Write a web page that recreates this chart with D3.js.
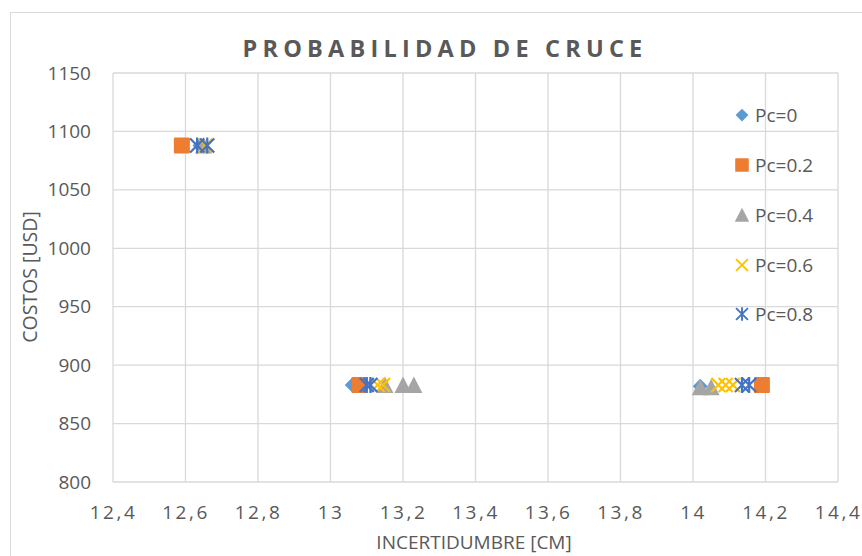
<!DOCTYPE html>
<html>
<head>
<meta charset="utf-8">
<script src="https://cdn.jsdelivr.net/npm/d3@7"></script>
<style>
  html, body { margin: 0; padding: 0; background: #fff; }
  svg { display: block; }
</style>
</head>
<body>
<svg id="chart" width="862" height="556"></svg>
<script>
const title = "PROBABILIDAD DE CRUCE";
const xTitle = "INCERTIDUMBRE [CM]";
const yTitle = "COSTOS [USD]";
const xTicks = [12.4, 12.6, 12.8, 13, 13.2, 13.4, 13.6, 13.8, 14, 14.2, 14.4];
const yTicks = [800, 850, 900, 950, 1000, 1050, 1100, 1150];
const seriesNames = ["Pc=0", "Pc=0.2", "Pc=0.4", "Pc=0.6", "Pc=0.8"];
const seriesColors = ["#5B9BD5", "#ED7D31", "#A5A5A5", "#FFC000", "#4472C4"];
const seriesSymbols = ["diamond", "square", "triangle", "x", "star"];

const pc0  = [[12.64, 1088], [13.06, 883], [14.02, 882]];
const pc02 = [[12.59, 1088], [13.08, 883], [14.19, 883]];
const pc04 = [[12.65, 1088], [13.15, 883], [13.20, 883], [13.23, 883], [14.02, 881], [14.05, 881]];
const pc06 = [[12.655, 1088], [13.13, 883], [13.145, 883], [14.07, 883], [14.09, 883], [14.11, 883]];
const pc08 = [[12.632, 1088], [12.66, 1088], [13.10, 883], [13.11, 883], [14.135, 883], [14.155, 883]];
const seriesData = [pc0, pc02, pc04, pc06, pc08];

const svg = d3.select("#chart");
const W = 862, H = 556;
const m = {left: 113, right: 838, top: 73, bottom: 482};

// outer chart frame
svg.append("rect").attr("x", 10.5).attr("y", 12.5).attr("width", W).attr("height", H)
  .attr("fill", "#fff").attr("stroke", "#d9d9d9").attr("stroke-width", 1);

const x = d3.scaleLinear().domain([12.4, 14.4]).range([m.left, m.right]);
const y = d3.scaleLinear().domain([800, 1150]).range([m.bottom, m.top]);

const font = "'Open Sans', 'Noto Sans', sans-serif";
const textColor = "#595959";

// gridlines
const grid = svg.append("g");
grid.selectAll("line.v").data(xTicks).join("line")
  .attr("x1", d => x(d)).attr("x2", d => x(d))
  .attr("y1", m.top).attr("y2", m.bottom)
  .attr("stroke", "#d9d9d9").attr("stroke-width", 1.3);
grid.selectAll("line.h").data(yTicks).join("line")
  .attr("x1", m.left).attr("x2", m.right)
  .attr("y1", d => y(d)).attr("y2", d => y(d))
  .attr("stroke", "#d9d9d9").attr("stroke-width", 1.3);

// axes (labels only)
const yAxis = svg.append("g").attr("transform", `translate(${m.left},0)`)
  .call(d3.axisLeft(y).tickValues(yTicks).tickSize(0).tickPadding(22).tickFormat(d3.format("d")));
yAxis.select(".domain").remove();
yAxis.selectAll("text").attr("font-family", font).attr("font-size", 19).attr("fill", textColor);

const xAxis = svg.append("g").attr("transform", `translate(0,${m.bottom})`)
  .call(d3.axisBottom(x).tickValues(xTicks).tickSize(0).tickPadding(24)
    .tickFormat(d => String(d).replace(".", ",")));
xAxis.select(".domain").remove();
xAxis.selectAll("text").attr("font-family", font).attr("font-size", 19).attr("fill", textColor)
  .attr("letter-spacing", "2.5px");

// titles
svg.append("text").attr("x", 445).attr("y", 57).attr("text-anchor", "middle")
  .attr("font-family", font).attr("font-weight", "bold").attr("font-size", 23.5)
  .attr("letter-spacing", "5.2px").attr("fill", textColor).text(title);
svg.append("text").attr("x", 474).attr("y", 549).attr("text-anchor", "middle")
  .attr("font-family", font).attr("font-size", 19).attr("fill", textColor).text(xTitle);
svg.append("text").attr("transform", `translate(37,277) rotate(-90)`).attr("text-anchor", "middle")
  .attr("font-family", font).attr("font-size", 19.5).attr("fill", textColor).text(yTitle);

// marker drawing
function drawMarker(g, type, color) {
  if (type === "diamond") {
    g.append("path").attr("d", "M0,-7.5L7.5,0L0,7.5L-7.5,0Z").attr("fill", color);
  } else if (type === "square") {
    g.append("rect").attr("x", -8).attr("y", -8).attr("width", 16).attr("height", 16)
      .attr("rx", 1).attr("fill", color);
  } else if (type === "triangle") {
    g.append("path").attr("d", "M0,-8.5L8.5,8L-8.5,8Z").attr("fill", color);
  } else if (type === "x") {
    g.append("path").attr("d", "M-7,-7L7,7M-7,7L7,-7").attr("stroke", color)
      .attr("stroke-width", 2.2).attr("fill", "none");
  } else if (type === "star") {
    g.append("path").attr("d", "M-7,-7L7,7M-7,7L7,-7M0,-8L0,8").attr("stroke", color)
      .attr("stroke-width", 2.2).attr("fill", "none");
  }
}

seriesData.forEach((data, i) => {
  const sg = svg.append("g").attr("class", "series");
  sg.selectAll("g").data(data).join("g")
    .attr("transform", d => `translate(${x(d[0])},${y(d[1])})`)
    .each(function() { drawMarker(d3.select(this), seriesSymbols[i], seriesColors[i]); });
});

// legend
const legendY = [115, 165, 215, 265, 314];
seriesNames.forEach((name, i) => {
  const lg = svg.append("g").attr("transform", `translate(742,${legendY[i]})`);
  const mg = lg.append("g").attr("transform", "scale(0.85)");
  drawMarker(mg, seriesSymbols[i], seriesColors[i]);
  lg.append("text").attr("x", 13).attr("y", 0).attr("dy", "0.35em")
    .attr("font-family", font).attr("font-size", 19).attr("fill", textColor).text(name);
});
</script>
</body>
</html>
